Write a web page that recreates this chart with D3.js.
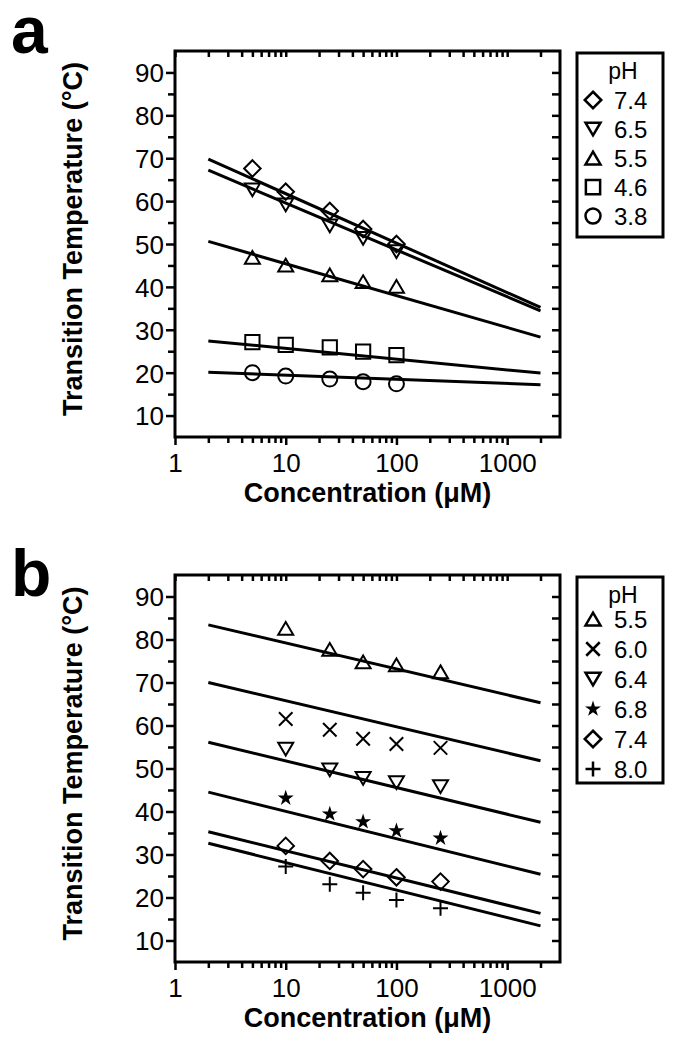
<!DOCTYPE html>
<html>
<head>
    <meta charset="utf-8" />
    <title>Transition temperature vs concentration</title>
    <script src="https://d3js.org/d3.v7.min.js"></script>
    <style>
        body {
            margin: 0;
            background: #fff;
        }

        text {
            font-family: "Liberation Sans", Arial, sans-serif;
            fill: #000;
        }

        .axis path {
            display: none;
        }

        .axis line {
            stroke: #000;
            stroke-width: 2.5px;
        }

        .axis text {
            font-size: 26px;
        }

        .frame {
            fill: none;
            stroke: #000;
            stroke-width: 3px;
        }

        .fit {
            fill: none;
            stroke: #000;
            stroke-width: 3px;
        }
    </style>
</head>

<body>
    <svg id="chart" width="677" height="1050"></svg>

    <script>
        // panel a
        var concA = [5, 10, 25, 50, 100];
        var phA = ["7.4", "6.5", "5.5", "4.6", "3.8"];
        var shapeA = ["diamond", "triangleDown", "triangleUp", "square", "circle"];
        var tempA = [
            [67.6, 62.2, 57.7, 53.5, 50.0],
            [62.6, 59.1, 54.2, 51.3, 48.2],
            [46.9, 45.1, 42.8, 41.2, 40.1],
            [27.1, 26.5, 25.9, 24.9, 24.1],
            [20.0, 19.2, 18.5, 17.9, 17.4]
        ];
        // fitted line values at 2 and 2000 uM
        var fitA = [
            [69.8, 35.2],
            [67.2, 34.4],
            [50.6, 28.3],
            [27.4, 19.9],
            [20.1, 17.2]
        ];

        // panel b
        var concB = [10, 25, 50, 100, 250];
        var phB = ["5.5", "6.0", "6.4", "6.8", "7.4", "8.0"];
        var shapeB = ["triangleUp", "times", "triangleDown", "star", "diamond", "plus"];
        var tempB = [
            [82.6, 77.7, 74.8, 74.1, 72.5],
            [61.5, 59.0, 56.9, 55.7, 54.8],
            [54.5, 49.7, 47.7, 46.7, 45.8],
            [43.1, 39.4, 37.6, 35.5, 33.8],
            [32.0, 28.5, 26.6, 24.7, 23.7],
            [27.2, 23.1, 21.1, 19.4, 17.5]
        ];
        var fitB = [
            [83.4, 65.3],
            [70.0, 51.8],
            [56.1, 37.5],
            [44.5, 25.4],
            [35.3, 16.3],
            [32.6, 13.4]
        ];

        var fitConc = [2, 2000];
        var xDomain = [1, 3000];
        var yDomain = [5, 95];
        var yMajor = [10, 20, 30, 40, 50, 60, 70, 80, 90];
        var yMinor = [15, 25, 35, 45, 55, 65, 75, 85];
        var xMajor = [1, 10, 100, 1000];

        var svg = d3.select("#chart");

        var left = 175,
            right = 560;

        var x = d3.scaleLog().domain(xDomain).range([left, right]);
        var xMinor = x.ticks().filter(function(d) {
            return xMajor.indexOf(d) < 0 && d < xDomain[1];
        });

        function markerPath(shape, r) {
            if (shape == "diamond") {
                r = r * 1.1;
                return "M0," + (-r) + "L" + r + ",0L0," + r + "L" + (-r) + ",0Z";
            }
            if (shape == "square") {
                r = r * 0.95;
                return "M" + (-r) + "," + (-r) + "H" + r + "V" + r + "H" + (-r) + "Z";
            }
            if (shape == "triangleUp") {
                var h = r * 0.85;
                return "M0," + (-h) + "L" + r + "," + h + "L" + (-r) + "," + h + "Z";
            }
            if (shape == "triangleDown") {
                var h2 = r * 0.85;
                return "M0," + h2 + "L" + r + "," + (-h2) + "L" + (-r) + "," + (-h2) + "Z";
            }
            if (shape == "circle") {
                return d3.symbol().type(d3.symbolCircle).size(Math.PI * r * r)();
            }
            if (shape == "times") {
                var t = r * 0.9;
                return "M" + (-t) + "," + (-t) + "L" + t + "," + t + "M" + t + "," + (-t) + "L" + (-t) + "," + t;
            }
            if (shape == "plus") {
                return "M" + (-r) + ",0H" + r + "M0," + (-r) + "V" + r;
            }
            if (shape == "star") {
                return d3.symbol().type(d3.symbolStar).size(r * r * 1.4)();
            }
        }

        function drawPanel(cfg) {
            var y = d3.scaleLinear().domain(yDomain).range([cfg.bottom, cfg.top]);
            var g = svg.append("g");

            // axes
            g.append("g").attr("class", "axis xb")
                .attr("transform", "translate(0," + cfg.bottom + ")")
                .call(d3.axisBottom(x).tickValues(xMajor).tickSize(8)
                    .tickFormat(d3.format("d")));
            g.append("g").attr("class", "axis")
                .attr("transform", "translate(0," + cfg.bottom + ")")
                .call(d3.axisBottom(x).tickValues(xMinor).tickSize(6).tickFormat(""));
            g.append("g").attr("class", "axis")
                .attr("transform", "translate(0," + cfg.top + ")")
                .call(d3.axisTop(x).tickValues(xMajor.concat(xMinor)).tickSize(-6).tickFormat(""));

            g.append("g").attr("class", "axis yl")
                .attr("transform", "translate(" + left + ",0)")
                .call(d3.axisLeft(y).tickValues(yMajor).tickSize(9).tickPadding(2));
            g.append("g").attr("class", "axis")
                .attr("transform", "translate(" + left + ",0)")
                .call(d3.axisLeft(y).tickValues(yMinor).tickSize(7).tickFormat(""));
            g.append("g").attr("class", "axis")
                .attr("transform", "translate(" + right + ",0)")
                .call(d3.axisRight(y).tickValues(yMajor.concat(yMinor)).tickSize(-8).tickFormat(""));

            g.selectAll(".xb text").attr("dy", null).attr("y", 35);
            g.selectAll(".yl text").attr("dy", "0.36em");

            g.append("rect")
                .attr("class", "frame")
                .attr("x", left)
                .attr("y", cfg.top)
                .attr("width", right - left)
                .attr("height", cfg.bottom - cfg.top);

            // fitted lines
            var line = d3.line()
                .x(function(d) { return x(d[0]); })
                .y(function(d) { return y(d[1]); });

            g.selectAll(".fit")
                .data(cfg.fit)
                .enter().append("path")
                .attr("class", "fit")
                .attr("d", function(d) {
                    return line([[fitConc[0], d[0]], [fitConc[1], d[1]]]);
                });

            // data points
            cfg.temp.forEach(function(series, i) {
                var shape = cfg.shape[i];
                g.selectAll(".pt" + i)
                    .data(series)
                    .enter().append("path")
                    .attr("transform", function(d, j) {
                        return "translate(" + x(cfg.conc[j]) + "," + y(d) + ")";
                    })
                    .attr("d", markerPath(shape, 7.5))
                    .attr("fill", shape == "star" ? "#000" : "none")
                    .attr("stroke", "#000")
                    .attr("stroke-width", shape == "star" ? 0 : 2);
            });

            // axis titles
            g.append("text")
                .attr("x", (left + right) / 2)
                .attr("y", cfg.bottom + 65)
                .attr("text-anchor", "middle")
                .attr("font-size", "27px")
                .attr("font-weight", "bold")
                .text("Concentration (\u03bcM)");

            g.append("text")
                .attr("transform", "translate(82," + ((cfg.top + cfg.bottom) / 2 - 5) + ") rotate(-90)")
                .attr("text-anchor", "middle")
                .attr("font-size", "27px")
                .attr("font-weight", "bold")
                .text("Transition Temperature (\u00b0C)");

            g.append("text")
                .attr("x", 11)
                .attr("y", cfg.letterY)
                .attr("font-size", "66px")
                .attr("font-weight", "bold")
                .text(cfg.letter);

            // legend
            var lg = g.append("g");
            lg.append("rect")
                .attr("class", "frame")
                .attr("x", 577)
                .attr("y", cfg.top + 2)
                .attr("width", 86)
                .attr("height", cfg.legendH);
            lg.append("text")
                .attr("x", 623)
                .attr("y", cfg.top + 28)
                .attr("text-anchor", "middle")
                .attr("font-size", "23px")
                .text("pH");

            var item = lg.selectAll(".item")
                .data(cfg.ph)
                .enter().append("g")
                .attr("transform", function(d, i) {
                    return "translate(0," + (cfg.top + cfg.legendY0 + i * cfg.legendStep) + ")";
                });
            item.append("path")
                .attr("transform", "translate(593,0)")
                .attr("d", function(d, i) { return markerPath(cfg.shape[i], 7.5); })
                .attr("fill", function(d, i) { return cfg.shape[i] == "star" ? "#000" : "none"; })
                .attr("stroke", "#000")
                .attr("stroke-width", function(d, i) { return cfg.shape[i] == "star" ? 0 : 2.5; });
            item.append("text")
                .attr("x", 614)
                .attr("y", 9)
                .attr("font-size", "24px")
                .text(function(d) { return d; });
        }

        drawPanel({
            top: 51,
            bottom: 437,
            letter: "a",
            letterY: 53,
            conc: concA,
            ph: phA,
            shape: shapeA,
            temp: tempA,
            fit: fitA,
            legendH: 184,
            legendY0: 49,
            legendStep: 29
        });

        drawPanel({
            top: 575,
            bottom: 962,
            letter: "b",
            letterY: 596,
            conc: concB,
            ph: phB,
            shape: shapeB,
            temp: tempB,
            fit: fitB,
            legendH: 206,
            legendY0: 44,
            legendStep: 30
        });
    </script>
</body>
</html>
